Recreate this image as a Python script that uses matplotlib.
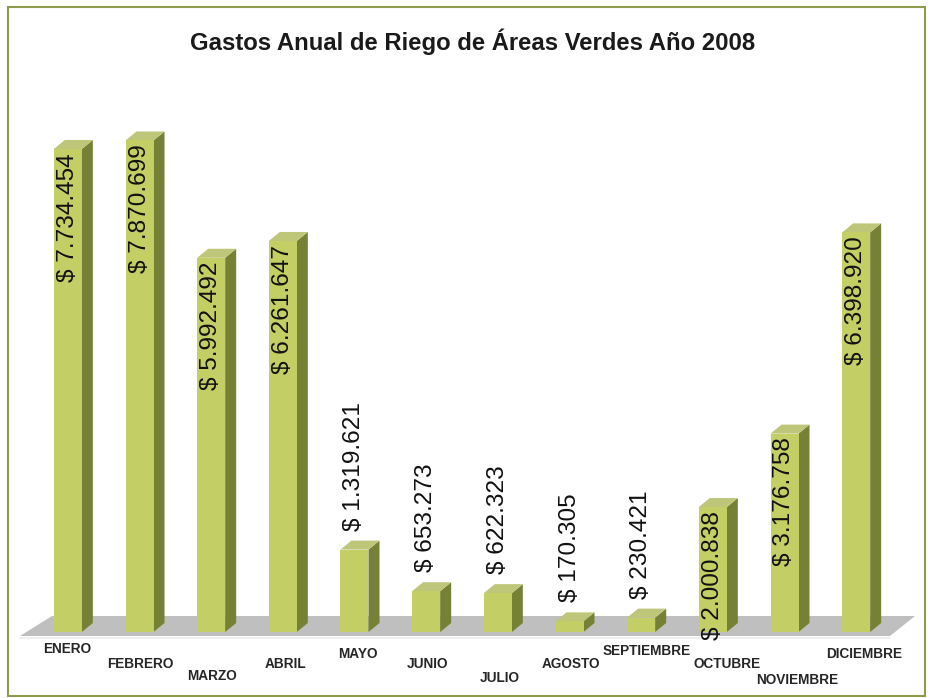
import matplotlib
matplotlib.use("Agg")
import matplotlib.pyplot as plt
from matplotlib.patches import Polygon, Rectangle

# ---- data ----
months = ["ENERO", "FEBRERO", "MARZO", "ABRIL", "MAYO", "JUNIO", "JULIO",
          "AGOSTO", "SEPTIEMBRE", "OCTUBRE", "NOVIEMBRE", "DICIEMBRE"]
values = [7734454, 7870699, 5992492, 6261647, 1319621, 653273, 622323,
          170305, 230421, 2000838, 3176758, 6398920]
title = "Gastos Anual de Riego de Áreas Verdes Año 2008"

# ---- style / layout ----
FRONT = "#c3ce65"
SIDE = "#768135"
TOP = "#bec679"
FLOOR = "#bfbfbf"
BORDER = "#8c9b4c"
FONT = "Liberation Sans"

# category label offsets (pixels): x shift, y below baseline (staggered)
lab_dx = [-1, 1, 1, 3, 3, 1, 2, 1, 5, 14, 13, 8]
lab_dy = [17, 32, 44, 32, 22, 32, 46, 32, 19, 32, 48, 22]

W, H, DPI = 934, 698, 100
fig = plt.figure(figsize=(W / DPI, H / DPI), dpi=DPI)
fig.patch.set_facecolor("white")

ax_left, ax_right = 32, 892
ax_top, ax_bottom = 100, 640
base_px = 632
Y_PER_PX = 16013.0
ax = fig.add_axes([ax_left / W, 1 - ax_bottom / H,
                   (ax_right - ax_left) / W, (ax_bottom - ax_top) / H])
ax.set_xlim(-0.5, len(values) - 0.5)
ax.set_ylim(-(ax_bottom - base_px) * Y_PER_PX, (base_px - ax_top) * Y_PER_PX)
ax.axis("off")
X_PER_PX = len(values) / (ax_right - ax_left)


def px_x(px):
    return -0.5 + (px - ax_left) * X_PER_PX


def px_y(py):
    return (base_px - py) * Y_PER_PX


# floor
floor = Polygon([(px_x(20), px_y(636)), (px_x(52), px_y(616)),
                 (px_x(915), px_y(616)), (px_x(890), px_y(636))],
                closed=True, fc=FLOOR, ec="none", clip_on=False, zorder=1)
ax.add_patch(floor)
ax.plot([px_x(20), px_x(890)], [px_y(637.5)] * 2, color="#ececec", lw=1.2,
        clip_on=False, zorder=1)

bw = 28 * X_PER_PX
dx = 11 * X_PER_PX
dy = 9 * Y_PER_PX

for i, v in enumerate(values):
    l, r = i - bw / 2, i + bw / 2
    ax.add_patch(Polygon([(r, 0), (r + dx, dy), (r + dx, v + dy), (r, v)],
                         closed=True, fc=SIDE, ec="none", zorder=2, clip_on=False))
    ax.add_patch(Polygon([(l, v), (l + dx, v + dy), (r + dx, v + dy), (r, v)],
                         closed=True, fc=TOP, ec="none", zorder=2, clip_on=False))
    ax.add_patch(Rectangle((l, 0), bw, v, fc=FRONT, ec="none", zorder=3,
                           clip_on=False))
    label = "$ " + f"{v:,}".replace(",", ".")
    if v > 1.5e6:
        ax.annotate(label, xy=(i, v), xytext=(0, -4 * 0.72),
                    textcoords="offset points", rotation=90, ha="center",
                    va="top", fontsize=17.6, family=FONT, color="#111111",
                    zorder=5, annotation_clip=False)
    else:
        ax.annotate(label, xy=(i, v), xytext=(0, 19 * 0.72),
                    textcoords="offset points", rotation=90, ha="center",
                    va="bottom", fontsize=17.6, family=FONT, color="#111111",
                    zorder=5, annotation_clip=False)
    ax.annotate(months[i], xy=(i, 0), xytext=(lab_dx[i] * 0.72, -lab_dy[i] * 0.72),
                textcoords="offset points", ha="center", va="center",
                fontsize=9.8, fontweight="bold", family=FONT, color="#262626",
                annotation_clip=False)

fig.text(473 / W, 1 - 42 / H, title, ha="center", va="center", fontsize=17.2,
         fontweight="bold", family=FONT, color="#1a1a1a")

fig.add_artist(Rectangle((8 / W, 1 - 696 / H), (925 - 8) / W, (696 - 7) / H,
                         transform=fig.transFigure, fill=False, ec=BORDER, lw=1.5))

fig.savefig("out.png", dpi=DPI, facecolor="white")
